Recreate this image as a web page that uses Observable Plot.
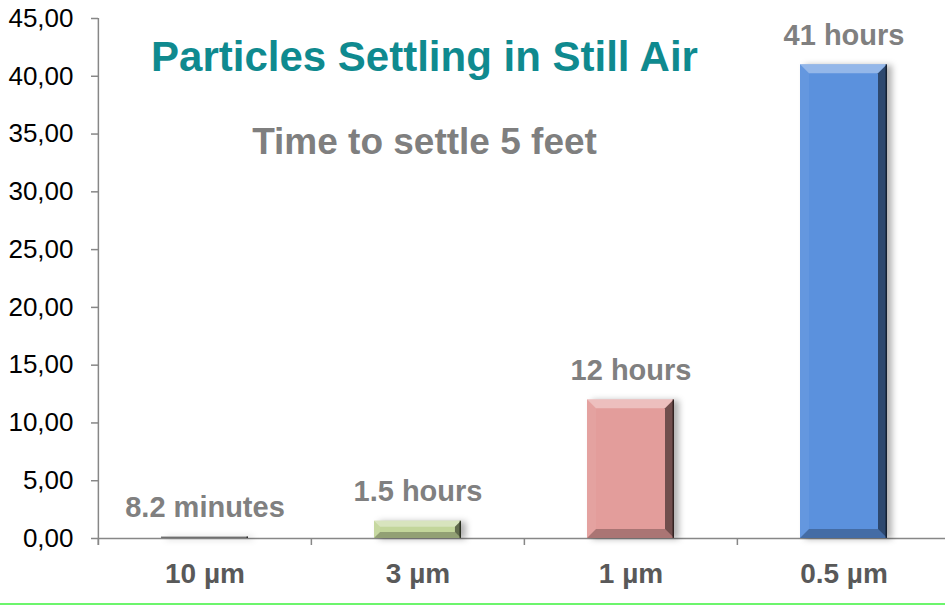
<!DOCTYPE html>
<html><head><meta charset="utf-8">
<script src="https://cdn.jsdelivr.net/npm/d3@7"></script>
<script src="https://cdn.jsdelivr.net/npm/@observablehq/plot@0.6"></script>
<style>
body{margin:0;background:#fff;font-family:"Liberation Sans",Arial,sans-serif;}
#wrap{width:945px;height:603px;overflow:hidden;}
#line{height:2px;background:#6cf56c;width:945px;}
</style></head><body>
<div id="wrap"></div><div id="line"></div>
<script>
const categories = ["10 µm", "3 µm", "1 µm", "0.5 µm"];
const hours = [8.2 / 60, 1.5, 12, 41];
const valueLabels = ["8.2 minutes", "1.5 hours", "12 hours", "41 hours"];
const barColors = ["#7f7f7f", "#c3d69b", "#e39d9b", "#5b91dd"];
const yTicks = [0, 5, 10, 15, 20, 25, 30, 35, 40, 45];
const titleText = "Particles Settling in Still Air";
const subtitleText = "Time to settle 5 feet";

const data = categories.map((c, i) => ({category: c, value: hours[i], label: valueLabels[i], color: barColors[i]}));
const fmt = d => d.toFixed(2).replace(".", ",");
const axisGray = "#878787";
const xRange = [98, 951];
const step = (xRange[1] - xRange[0]) / categories.length;

const chart = Plot.plot({
  width: 945, height: 603, marginLeft: 98, marginRight: 0, marginTop: 18, marginBottom: 65,
  style: {fontFamily: "Liberation Sans, Arial, sans-serif", background: "white", overflow: "visible"},
  x: {domain: categories, range: xRange, paddingInner: 0.59, paddingOuter: 0.295, label: null},
  y: {domain: [0, 45], label: null},
  color: {type: "identity"},
  marks: [
    Plot.ruleY([0], {stroke: axisGray, strokeWidth: 1.5}),
    Plot.ruleX(categories, {x: d => d, y1: 0, y2: 0, insetBottom: -7, dx: -step / 2, stroke: axisGray, strokeWidth: 1.5}),
    Plot.ruleX([categories[0]], {x: d => d, y1: 45, y2: 0, insetBottom: -7, dx: -step / 2, stroke: axisGray, strokeWidth: 1.5}),
    Plot.axisY({ticks: yTicks, tickFormat: fmt, tickSize: 7, tickPadding: 18, fontSize: 26, stroke: axisGray, strokeWidth: 1.5, strokeOpacity: 1, fill: "black", label: null}),
    Plot.axisX({tickSize: 0, tickPadding: 25, fontSize: 28, fontWeight: "bold", fill: "#595959", label: null}),
    Plot.barY(data, {x: "category", y: "value", fill: "color"}),
    Plot.text(data, {x: "category", y: "value", text: "label", lineAnchor: "bottom", dy: -20, fontSize: 29, fontWeight: "bold", fill: "#808080"}),
    Plot.text([titleText], {text: d => d, frameAnchor: "top-left", dx: 326, dy: 52, textAnchor: "middle", lineAnchor: "bottom", fontSize: 42, fontWeight: "bold", fill: "#0f8a8f"}),
    Plot.text([subtitleText], {text: d => d, frameAnchor: "top-left", dx: 326, dy: 135, textAnchor: "middle", lineAnchor: "bottom", fontSize: 37, fontWeight: "bold", fill: "#7f7f7f"})
  ]
});

// bevel + shadow effect on the rendered bars
const ns = "http://www.w3.org/2000/svg";
const barG = chart.querySelector('g[aria-label="bar"]');
if (barG) {
  barG.style.filter = "drop-shadow(5px 1px 3px rgba(0,0,0,0.3))";
  barG.querySelectorAll("rect").forEach(r => {
    const x = +r.getAttribute("x"), y = +r.getAttribute("y");
    const w = +r.getAttribute("width"), h = +r.getAttribute("height");
    const b = Math.min(9, h * 0.35, w / 2);
    const polys = [
      [[x, y], [x + w, y], [x + w - b, y + b], [x + b, y + b], "rgba(255,255,255,0.35)"],
      [[x + w, y], [x + w, y + h], [x + w - b, y + h - b], [x + w - b, y + b], "rgba(0,0,0,0.5)"],
      [[x, y + h], [x + w, y + h], [x + w - b, y + h - b], [x + b, y + h - b], "rgba(0,0,0,0.25)"],
      [[x, y], [x, y + h], [x + b, y + h - b], [x + b, y + b], "rgba(255,255,255,0.06)"]
    ];
    polys.forEach(p => {
      const el = document.createElementNS(ns, "polygon");
      el.setAttribute("points", p.slice(0, 4).map(q => q.join(",")).join(" "));
      el.setAttribute("fill", p[4]);
      barG.appendChild(el);
    });
    const edge = document.createElementNS(ns, "rect");
    edge.setAttribute("x", x + w - 1.5); edge.setAttribute("y", y);
    edge.setAttribute("width", 1.5); edge.setAttribute("height", h);
    edge.setAttribute("fill", "rgba(0,0,0,0.55)");
    barG.appendChild(edge);
  });
}
document.getElementById("wrap").appendChild(chart);
</script>
</body></html>
